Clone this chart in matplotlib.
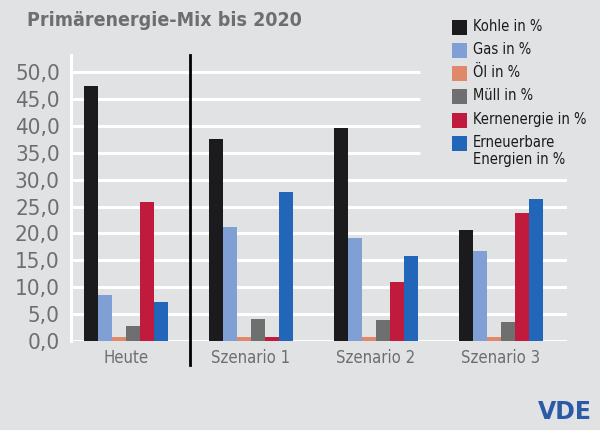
import numpy as np
import matplotlib.pyplot as plt
from matplotlib.patches import Rectangle
from matplotlib.lines import Line2D

plt.rcParams['font.family'] = ['DejaVu Sans']
plt.rcParams['font.stretch'] = 'condensed'

groups = ['Heute', 'Szenario 1', 'Szenario 2', 'Szenario 3']
series = ['Kohle in %', 'Gas in %', 'Öl in %', 'Müll in %',
          'Kernenergie in %', 'Erneuerbare\nEnergien in %']
kohle = [47.5, 37.5, 39.6, 20.6]
gas = [8.6, 21.2, 19.1, 16.8]
oel = [0.8, 0.7, 0.7, 0.7]
muell = [2.8, 4.1, 3.9, 3.5]
kern = [25.9, 0.7, 10.9, 23.9]
erneuerbar = [7.3, 27.7, 15.8, 26.5]
colors = ['#1b1a1c', '#7f9fd5', '#e0896a', '#6f6f70', '#c01b3d', '#2166b9']
yticks = np.arange(0, 55, 5)

bg = '#e1e2e4'
W, H = 600, 430
fig = plt.figure(figsize=(6, 4.3), dpi=100, facecolor=bg)
ax = fig.add_axes([71 / W, 89 / H, 496 / W, 286 / H])
ax.set_facecolor(bg)

ax.set_xlim(-0.44, 3.528)
ax.set_ylim(0, 53.2)

# weisse Gitterlinien, oben kuerzer wegen Legende
for y in yticks:
    xmax = 2.35 if y >= 35 else 3.528
    ax.hlines(y, -0.44, xmax, color='white', lw=2.2, zorder=1)

x = np.arange(len(groups))
w = 0.111
data = [kohle, gas, oel, muell, kern, erneuerbar]
for i, (vals, c) in enumerate(zip(data, colors)):
    ax.bar(x + (i - 2.5) * w, vals, width=w, color=c, zorder=2)

for s in ['top', 'right', 'bottom']:
    ax.spines[s].set_visible(False)
ax.spines['left'].set_color('white')
ax.spines['left'].set_linewidth(2.2)

ax.set_yticks(yticks)
ax.set_yticklabels([f'{v:.1f}'.replace('.', ',') for v in yticks],
                   fontsize=16, color='#6d6e70')
ax.set_xticks(x)
ax.set_xticklabels(groups, fontsize=12, color='#6d6e70')
ax.tick_params(length=0)
ax.tick_params(axis='y', pad=8)
ax.tick_params(axis='x', pad=6)

ax.add_line(Line2D([0.512, 0.512], [53.2, -4.5], color='black', lw=2,
                   clip_on=False, zorder=3))

fig.text(27 / W, 1 - 20 / H, 'Primärenergie-Mix bis 2020', fontsize=14,
         fontweight='bold', color='#6d6e70', va='center', ha='left')

# Legende von Hand
row_y = [27, 50, 73, 96.5, 120, 143]
for lab, c, yc in zip(series, colors, row_y):
    fig.patches.append(Rectangle((452 / W, 1 - (yc + 7.5) / H), 15 / W, 15 / H,
                                 transform=fig.transFigure, facecolor=c,
                                 edgecolor='none'))
    fig.text(473 / W, 1 - (yc - 8) / H, lab, fontsize=10.5, color='#1a1a1a',
             va='top', ha='left', linespacing=1.15)

fig.text(592 / W, 1 - 412 / H, 'VDE', fontsize=17, fontweight='heavy',
         color='#2b5aa6', ha='right', va='center', stretch='normal')

fig.savefig('out.png', dpi=100, facecolor=bg)
